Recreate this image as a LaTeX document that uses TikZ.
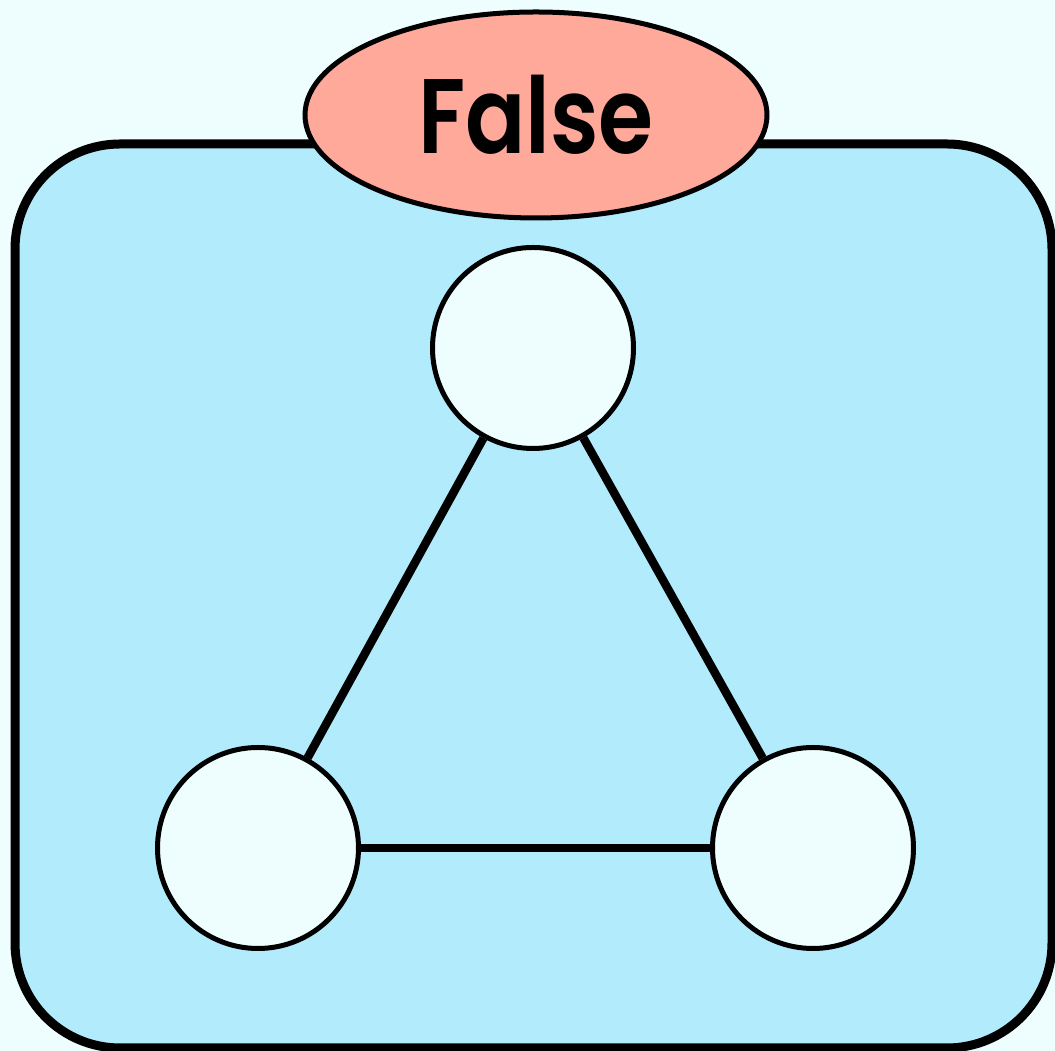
\documentclass[tikz,border=0pt]{standalone}
\usepackage{fontspec}
\newfontfamily\labelfont{Poppins}[BoldFont={Poppins SemiBold}]
\usetikzlibrary{shapes.geometric}
\definecolor{paleback}{HTML}{EEFEFE}
\definecolor{boxblue}{HTML}{B2EBFC}
\definecolor{salmon}{HTML}{FFA99B}
\begin{document}
\begin{tikzpicture}[x=1pt, y=1pt]
    %--------------------%
    % Parameters
    %--------------------%
    \def\circlesize{201pt}
    \def\circlethic{5pt}
    \def\edgethic{8.5pt}

    \tikzset{
        vertex/.style={draw, circle, fill=paleback, minimum size=\circlesize, line width=\circlethic, inner sep=0pt},
        edge/.style={line width=\edgethic}
    }

    %--------------------%
    % Background
    %--------------------%
    \fill[paleback] (0,0) rectangle (1055,1051);
    \useasboundingbox (0,0) rectangle (1055,1051);
    \draw[fill=boxblue, line width=9pt, rounded corners=105pt] (15,3) rectangle (1052,907);

    %--------------------%
    % Label
    %--------------------%
    \node[draw, ellipse, fill=salmon, line width=\circlethic, minimum width=462pt, minimum height=206pt, inner sep=0pt] (result) at (536,936)
        {\labelfont\bfseries\fontsize{106}{110}\selectfont\scalebox{0.84}[1]{False}};

    %--------------------%
    % Vertices
    %--------------------%
    \node[vertex] (top) at (533,703) {};
    \node[vertex] (left) at (258,203) {};
    \node[vertex] (right) at (813,203) {};

    %--------------------%
    % Edges
    %--------------------%
    \draw[edge] (top) -- (left);
    \draw[edge] (top) -- (right);
    \draw[edge] (left) -- (right);

\end{tikzpicture}
\end{document}
